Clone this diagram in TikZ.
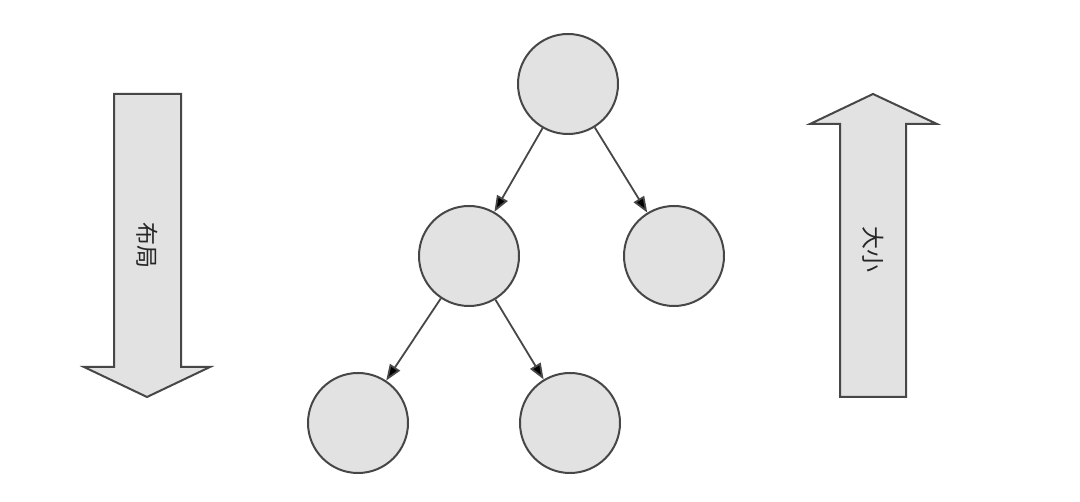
\documentclass[tikz,border=0pt]{standalone}
\usepackage{fontspec}
\newfontfamily\cjk{Noto Sans CJK SC}
\usetikzlibrary{arrows.meta}
\definecolor{nodefill}{HTML}{E2E2E2}
\definecolor{edge}{HTML}{474747}
\begin{document}
\begin{tikzpicture}[x=1pt,y=-1pt,
  treenode/.style={circle,draw=edge,fill=nodefill,line width=2pt,minimum size=100pt,inner sep=0pt},
  link/.style={draw=edge,line width=1.8pt,-{Triangle[length=16pt,width=12pt,fill=black]}},
  blockarrow/.style={draw=edge,fill=nodefill,line width=2pt,line join=miter},
  vlabel/.style={font=\cjk\fontsize{23}{23}\selectfont,text=black!85,rotate=-90,inner sep=0pt}]
\useasboundingbox[fill=white] (0,0) rectangle (1080,502);
% tree
\node[treenode] (r) at (568,84) {};
\node[treenode] (a) at (469,256) {};
\node[treenode] (b) at (674,256) {};
\node[treenode] (c) at (358,423) {};
\node[treenode] (d) at (570,423) {};
\draw[link] (r) -- (a);
\draw[link] (r) -- (b);
\draw[link] (a) -- (c);
\draw[link] (a) -- (d);
% left block arrow (down)
\path[blockarrow] (114,94) -- (181,94) -- (181,367) -- (210,367) -- (147,397) -- (84,367) -- (114,367) -- cycle;
\node[vlabel] (layout) at (147,246) {布局};
% right block arrow (up)
\path[blockarrow] (840,397) -- (906,397) -- (906,124) -- (937,124) -- (873,94) -- (810,124) -- (840,124) -- cycle;
\node[vlabel] (size) at (873,250) {大小};
\end{tikzpicture}
\end{document}
